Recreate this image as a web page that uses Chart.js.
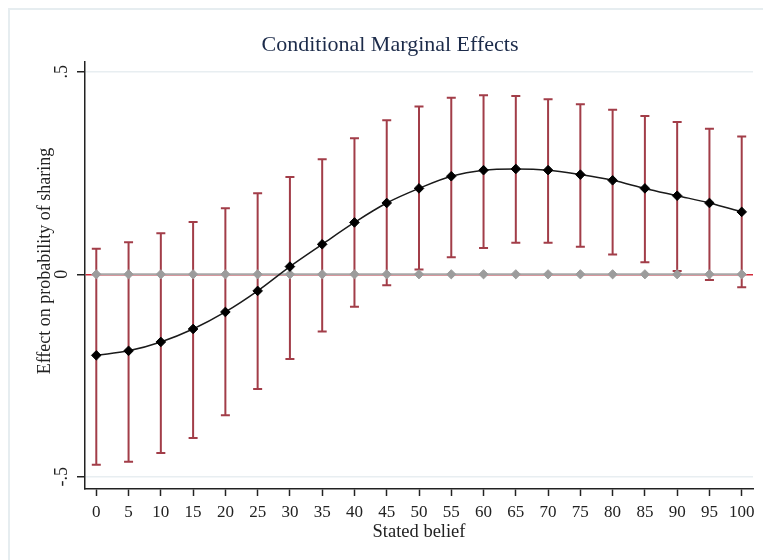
<!DOCTYPE html>
<html>
<head>
<meta charset="utf-8">
<script src="https://cdn.jsdelivr.net/npm/chart.js@4.4.1/dist/chart.umd.min.js"></script>
<style>
  html, body { margin: 0; padding: 0; background: #fff; }
  #wrap { position: relative; width: 763px; height: 560px; overflow: hidden; }
  #frame { position: absolute; left: 8px; top: 8px; width: 800px; height: 600px; border-top: 2px solid #e6edf0; border-left: 2px solid #e6edf0; }
  canvas { position: absolute; left: 0; top: 0; }
</style>
</head>
<body>
<div id="wrap">
  <div id="frame"></div>
  <canvas id="chart" width="763" height="560"></canvas>
</div>
<script>
const statedBelief = [0, 5, 10, 15, 20, 25, 30, 35, 40, 45, 50, 55, 60, 65, 70, 75, 80, 85, 90, 95, 100];
const marginalEffect = [-0.200, -0.189, -0.167, -0.135, -0.093, -0.041, 0.019, 0.074, 0.128, 0.176, 0.212,
  0.242, 0.257, 0.260, 0.257, 0.246, 0.232, 0.212, 0.194, 0.176, 0.154];
const ciUpper = [0.063, 0.079, 0.101, 0.129, 0.163, 0.200, 0.240, 0.284, 0.336, 0.380, 0.414,
  0.436, 0.442, 0.440, 0.432, 0.420, 0.406, 0.391, 0.376, 0.359, 0.340];
const ciLower = [-0.470, -0.463, -0.441, -0.404, -0.348, -0.283, -0.209, -0.141, -0.080, -0.027, 0.012,
  0.042, 0.065, 0.078, 0.078, 0.068, 0.049, 0.030, 0.008, -0.014, -0.032];
const zeroRef = [0, 0, 0, 0, 0, 0, 0, 0, 0, 0, 0, 0, 0, 0, 0, 0, 0, 0, 0, 0, 0];

const xTicks = [0, 5, 10, 15, 20, 25, 30, 35, 40, 45, 50, 55, 60, 65, 70, 75, 80, 85, 90, 95, 100];
const yTicks = [-0.5, 0, 0.5];
const yTickLabels = ['-.5', '0', '.5'];

const serif = '"Liberation Serif", "Times New Roman", serif';
const barColor = '#a23d48';

// confidence intervals, drawn under the point series
const ciBars = {
  id: 'ciBars',
  beforeDatasetsDraw(chart) {
    const { ctx, scales: { x, y } } = chart;
    ctx.save();
    ctx.strokeStyle = barColor;
    ctx.lineWidth = 2;
    statedBelief.forEach((b, i) => {
      const px = x.getPixelForValue(b);
      const top = y.getPixelForValue(ciUpper[i]);
      const bot = y.getPixelForValue(ciLower[i]);
      ctx.beginPath();
      ctx.moveTo(px, top); ctx.lineTo(px, bot);
      ctx.moveTo(px - 4.5, top); ctx.lineTo(px + 4.5, top);
      ctx.moveTo(px - 4.5, bot); ctx.lineTo(px + 4.5, bot);
      ctx.stroke();
    });
    ctx.restore();
  }
};

// rotated y tick labels and y title, the way Stata prints them
const yText = {
  id: 'yText',
  afterDraw(chart) {
    const { ctx, scales: { y } } = chart;
    ctx.save();
    ctx.fillStyle = '#222';
    ctx.textAlign = 'center';
    ctx.textBaseline = 'middle';
    ctx.font = '18px ' + serif;
    yTicks.forEach((v, i) => {
      ctx.save();
      ctx.translate(62, y.getPixelForValue(v));
      ctx.rotate(-Math.PI / 2);
      ctx.fillText(yTickLabels[i], 0, 0);
      ctx.restore();
    });
    ctx.font = '18px ' + serif;
    ctx.translate(45, 261);
    ctx.rotate(-Math.PI / 2);
    ctx.fillText('Effect on probability of sharing', 0, 0);
    ctx.restore();
  }
};

new Chart(document.getElementById('chart'), {
  type: 'scatter',
  data: {
    datasets: [
      {
        label: 'Effect',
        data: statedBelief.map((b, i) => ({ x: b, y: marginalEffect[i] })),
        showLine: true,
        tension: 0.35,
        borderColor: '#1a1a1a',
        borderWidth: 1.5,
        pointStyle: 'rectRot',
        pointRadius: 4.8,
        pointBackgroundColor: '#000',
        pointBorderColor: '#000',
        pointBorderWidth: 1,
        order: 1
      },
      {
        label: 'Zero',
        data: statedBelief.map((b, i) => ({ x: b, y: zeroRef[i] })),
        showLine: true,
        borderColor: '#a8a8a8',
        borderWidth: 2,
        pointStyle: 'rectRot',
        pointRadius: 4.6,
        pointBackgroundColor: '#9c9c9c',
        pointBorderColor: '#9c9c9c',
        pointBorderWidth: 1,
        order: 2
      }
    ]
  },
  options: {
    responsive: false,
    animation: false,
    events: [],
    layout: { padding: { left: 27, right: 10, top: 0, bottom: 0 } },
    plugins: {
      legend: { display: false },
      tooltip: { enabled: false },
      title: {
        display: true,
        text: 'Conditional Marginal Effects',
        color: '#1c2b4a',
        font: { family: serif, size: 22, weight: 'normal', lineHeight: 1.2 },
        padding: { top: 32, bottom: 3.6 }
      }
    },
    scales: {
      x: {
        type: 'linear',
        min: -1.75,
        max: 101.75,
        afterBuildTicks: (s) => { s.ticks = xTicks.map((v) => ({ value: v })); },
        afterFit: (s) => { s.height = 71; },
        border: { display: true, color: '#222', width: 1.5 },
        grid: { drawOnChartArea: false, drawTicks: true, tickLength: 7, tickColor: '#222', tickWidth: 1.5 },
        ticks: { color: '#222', padding: 6, maxRotation: 0, autoSkip: false, font: { family: serif, size: 17 } },
        title: {
          display: true,
          text: 'Stated belief',
          color: '#222',
          font: { family: serif, size: 18.5 },
          padding: { top: 0, bottom: 17 }
        }
      },
      y: {
        type: 'linear',
        min: -0.53,
        max: 0.524,
        afterBuildTicks: (s) => { s.ticks = yTicks.map((v) => ({ value: v })); },
        afterFit: (s) => { s.width = 58; },
        border: { display: true, color: '#222', width: 1.5 },
        grid: {
          drawOnChartArea: true,
          drawTicks: true,
          tickLength: 8,
          tickColor: '#222',
          tickWidth: 1.5,
          lineWidth: 1.5,
          color: (c) => (c.tick && c.tick.value === 0 ? '#d22b3a' : '#e8eef1')
        },
        ticks: { display: false }
      }
    }
  },
  plugins: [ciBars, yText]
});
</script>
</body>
</html>
